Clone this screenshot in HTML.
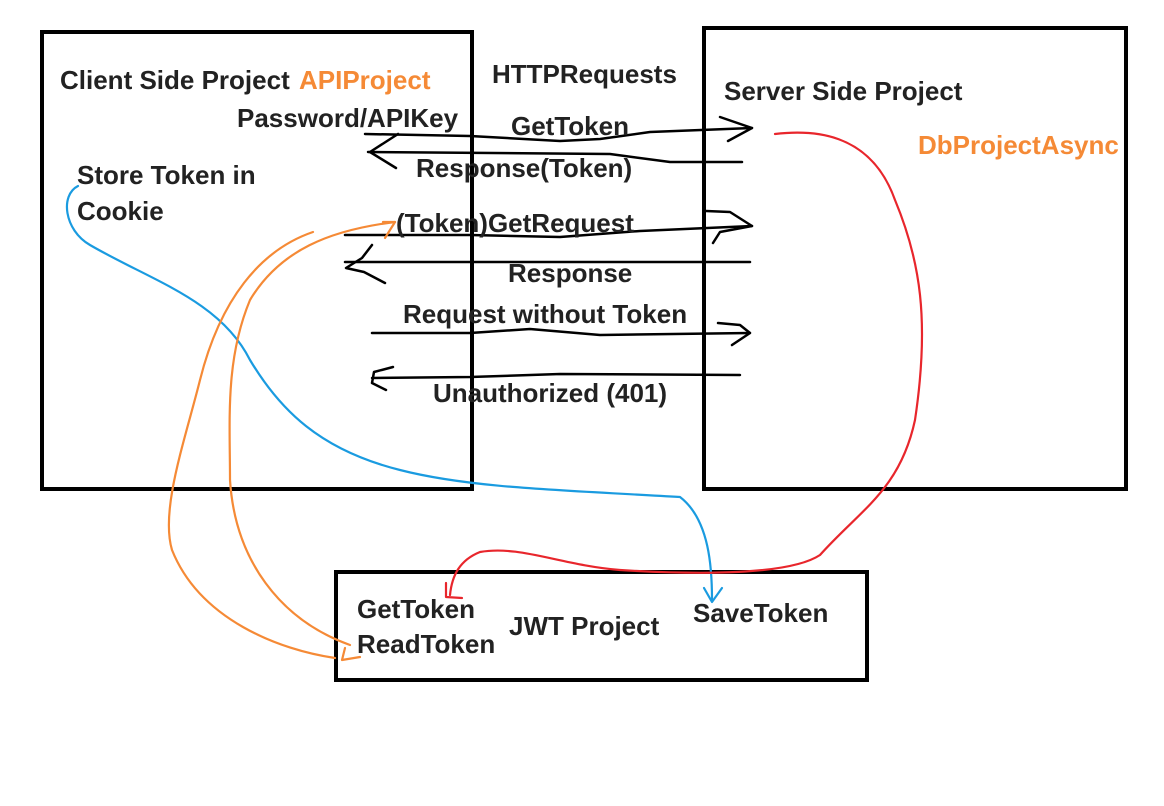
<!DOCTYPE html>
<html><head><style>
html,body{margin:0;padding:0;background:#fff;}
svg{display:block;}
text{font-family:"Liberation Sans",sans-serif;font-weight:bold;font-size:26px;fill:#222;}
.o{fill:#f58a36;}
</style></head><body>
<svg width="1164" height="806" viewBox="0 0 1164 806" xmlns="http://www.w3.org/2000/svg">
<rect x="0" y="0" width="1164" height="806" fill="#fff"/>
<g fill="none" stroke="#000" stroke-width="4">
<rect x="42" y="32" width="430" height="457"/>
<rect x="704" y="28" width="422" height="461"/>
<rect x="336" y="572" width="531" height="108"/>
</g>
<g fill="none" stroke="#000" stroke-width="2.5" stroke-linecap="round" stroke-linejoin="round">
<path d="M365 134 L470 136 L560 141 L600 139 L650 132 L752 128"/>
<path d="M720 117 L752 128 L728 141"/>
<path d="M742 162 L670 162 L610 154 L368 152"/>
<path d="M398 134 L370 152 L396 168"/>
<path d="M345 235 L470 235 L560 237 L640 231 L752 226"/>
<path d="M706 211 L730 212 L752 226 L720 232 L713 243"/>
<path d="M750 262 L345 262"/>
<path d="M372 245 L362 258 L346 268 L364 272 L385 283"/>
<path d="M372 333 L470 333 L530 329 L600 335 L750 333"/>
<path d="M718 323 L740 325 L750 333 L732 345"/>
<path d="M740 375 L560 374 L470 377 L372 378"/>
<path d="M393 367 L374 372 L372 383 L386 390"/>
</g>
<g fill="none" stroke-width="2.2" stroke-linecap="round" stroke-linejoin="round">
<path stroke="#1a9be0" d="M78 186 C60 195 64 230 90 245 C150 280 220 300 250 360 C280 410 320 450 400 470 C470 488 560 490 680 497 C710 520 712 570 712 600"/>
<path stroke="#1a9be0" d="M704 588 L712 602 L722 588"/>
<path stroke="#e8262c" d="M775 134 C810 130 870 130 895 200 C920 260 930 320 915 420 C900 490 860 510 820 555 C790 575 700 575 620 570 C560 565 520 545 480 552 C460 560 452 575 450 595"/>
<path stroke="#e8262c" d="M446 583 L446 597 L462 598"/>
<path stroke="#f58a36" d="M395 222 C330 230 280 250 250 300 C225 360 230 420 230 480 C235 560 280 620 350 645"/>
<path stroke="#f58a36" d="M313 232 C260 250 220 300 200 380 C185 440 160 510 172 550 C200 620 280 650 335 658"/>
<path stroke="#f58a36" d="M383 222 L395 222 L385 238"/>
<path stroke="#f58a36" d="M345 648 L342 660 L360 657"/>
</g>
<text x="60" y="89">Client Side Project</text>
<text x="299" y="89" class="o">APIProject</text>
<text x="492" y="83">HTTPRequests</text>
<text x="724" y="100">Server Side Project</text>
<text x="237" y="127">Password/APIKey</text>
<text x="511" y="135">GetToken</text>
<text x="918" y="154" class="o">DbProjectAsync</text>
<text x="416" y="177">Response(Token)</text>
<text x="77" y="184">Store Token in</text>
<text x="77" y="220">Cookie</text>
<text x="396" y="232">(Token)GetRequest</text>
<text x="508" y="282">Response</text>
<text x="403" y="323">Request without Token</text>
<text x="433" y="402">Unauthorized (401)</text>
<text x="357" y="618">GetToken</text>
<text x="357" y="653">ReadToken</text>
<text x="509" y="635">JWT Project</text>
<text x="693" y="622">SaveToken</text>
</svg>
</body></html>
